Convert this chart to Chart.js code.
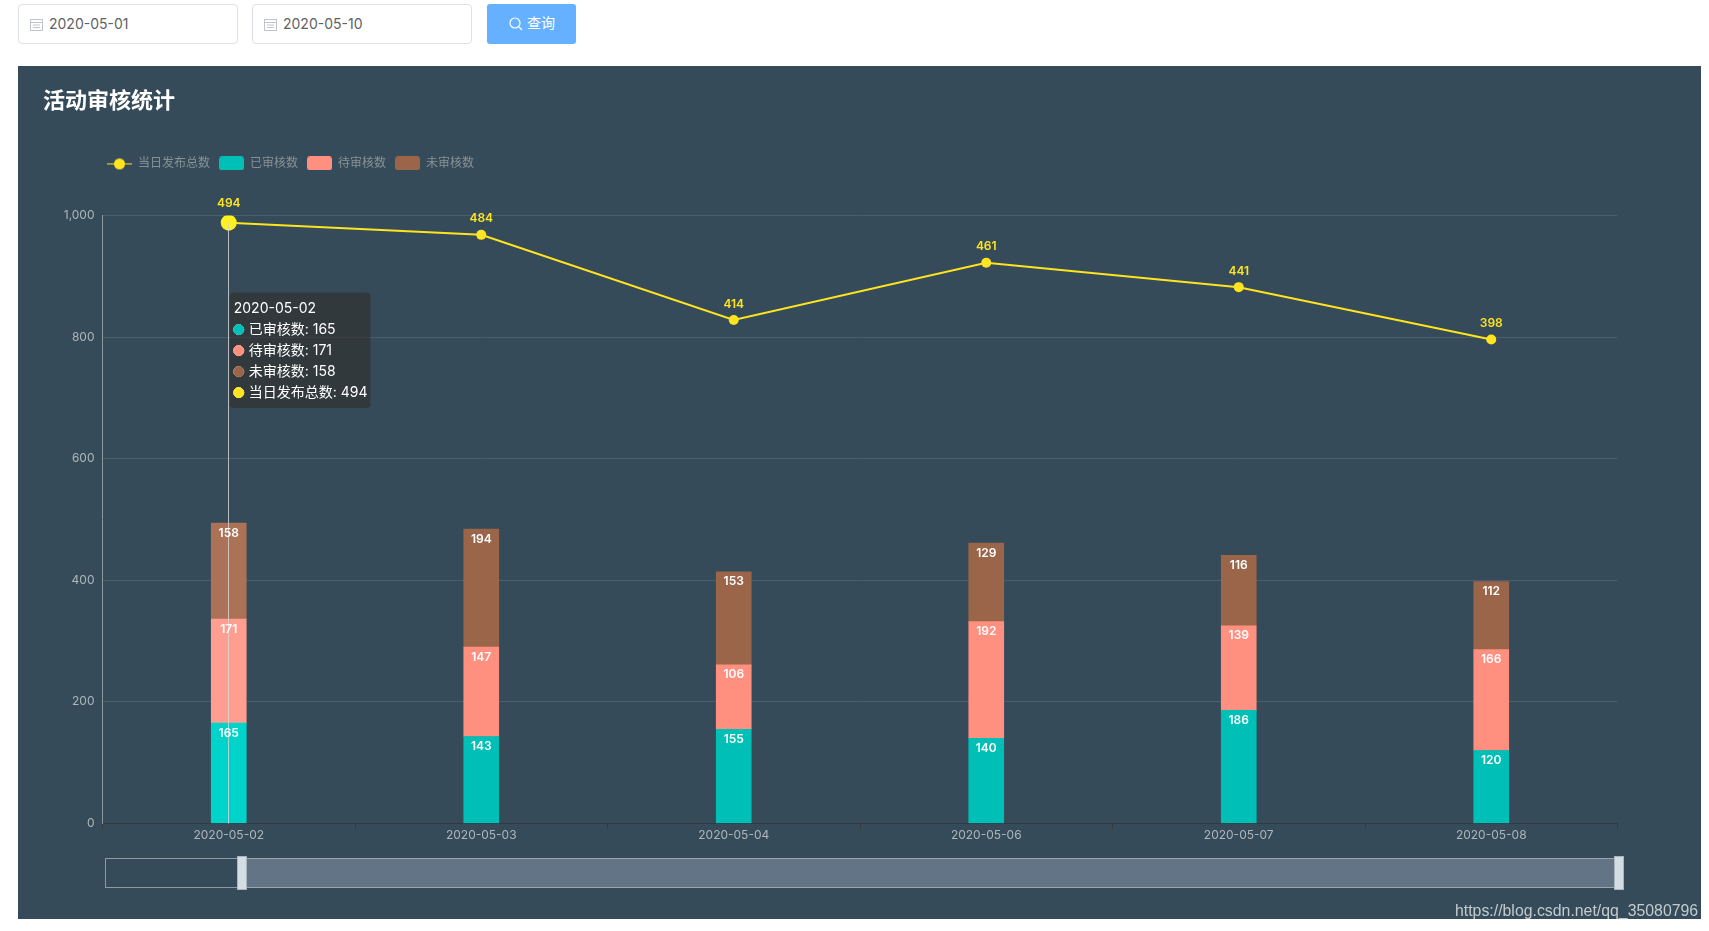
<!DOCTYPE html>
<html lang="zh"><head><meta charset="utf-8">
<script src="https://cdn.jsdelivr.net/npm/chart.js@4"></script>
<style>
html,body{margin:0;padding:0;background:#fff;overflow:hidden;width:1709px;height:931px;font-family:Inter,"Noto Sans CJK SC",sans-serif}
.inp{position:absolute;top:4px;height:38px;width:218px;border:1px solid #dcdfe6;border-radius:4px;background:#fff;color:#606266;font-size:14px;line-height:37px;box-sizing:content-box}
.inp span{position:absolute;left:30px;top:0}
.inp svg{position:absolute;left:11px;top:13px}
#btn{position:absolute;left:487px;top:4px;width:89px;height:40px;background:#66b1ff;border-radius:3px;color:#fff;font-size:14px;line-height:38px}
#btn span{position:absolute;left:40px;top:0}
#btn svg{position:absolute;left:22px;top:13px}
#panel{position:absolute;left:18px;top:66px;width:1683px;height:853px;background:#354b59}
canvas{position:absolute;left:0;top:0}
.sl{position:absolute;box-sizing:border-box}
#wm{position:absolute;left:1455px;top:902px;font:15.85px "Liberation Sans",Arial,sans-serif;color:#c3cbcf;white-space:nowrap}
</style></head><body>
<div class="inp" style="left:18px"><svg width="13" height="13" viewBox="0 0 13 13" fill="none" stroke="#c0c4cc"><rect x=".5" y="1.5" width="12" height="11"/><path d="M.5 4.5h12M3 7h7M3 9.5h7"/></svg><span id="d1"></span></div>
<div class="inp" style="left:252px"><svg width="13" height="13" viewBox="0 0 13 13" fill="none" stroke="#c0c4cc"><rect x=".5" y="1.5" width="12" height="11"/><path d="M.5 4.5h12M3 7h7M3 9.5h7"/></svg><span id="d2"></span></div>
<div id="btn"><svg width="14" height="14" viewBox="0 0 14 14" fill="none" stroke="#fff" stroke-width="1.2"><circle cx="6" cy="6" r="5"/><path d="M10 10l3 3"/></svg><span>查询</span></div>
<div id="panel">
  <canvas id="c" width="1683" height="853" style="width:1683px;height:853px"></canvas>
  <div class="sl" style="left:87px;top:792px;width:1510px;height:30px;border:1px solid #8d9a9f"></div>
  <div class="sl" style="left:224px;top:792px;width:1375px;height:30px;background:#627486;border-top:1px solid #9aa6a8;border-bottom:1px solid #9aa6a8"></div>
  <div class="sl" style="left:219px;top:790px;width:10px;height:34px;background:#d3dde4;border:1px solid #a9b6bf"></div>
  <div class="sl" style="left:1596px;top:790px;width:10px;height:34px;background:#d3dde4;border:1px solid #a9b6bf"></div>
</div>
<div id="wm">https://blog.csdn.net/qq_35080796</div>
<script>
const startDate = "2020-05-01";
const endDate = "2020-05-10";
const categories = ["2020-05-02","2020-05-03","2020-05-04","2020-05-06","2020-05-07","2020-05-08"];
const reviewed = [165,143,155,140,186,120];
const pending  = [171,147,106,192,139,166];
const unreviewed = [158,194,153,129,116,112];
const published = [494,484,414,461,441,398];
const yTicks = [0,200,400,600,800,1000];
const titleText = "活动审核统计";

document.getElementById('d1').textContent = startDate;
document.getElementById('d2').textContent = endDate;

const C = {teal:'#00bfb6', salmon:'#ff8f7f', brown:'#9b6549', yellow:'#ffe41f',
           tealH:'#00d3ca', salmonH:'#ff9e90', brownH:'#ab7257', yellowH:'#fff01f'};
const FONT = 'Inter,"Noto Sans CJK SC",sans-serif';

function swatch(draw){
  const c = document.createElement('canvas'); c.width = 25; c.height = 14;
  draw(c.getContext('2d')); return c;
}
function boxIcon(color){
  return swatch(g=>{ g.fillStyle=color; g.beginPath(); g.roundRect(0,0,25,14,3); g.fill(); });
}
const lineIcon = swatch(g=>{
  g.strokeStyle=C.yellow; g.lineWidth=1; g.beginPath(); g.moveTo(0,7.5); g.lineTo(25,7.5); g.stroke();
  g.fillStyle=C.yellow; g.beginPath(); g.arc(12.5,7.5,5.5,0,Math.PI*2); g.fill();
});

const valueLabels = {
  id:'valueLabels',
  afterDatasetsDraw(chart){
    const ctx = chart.ctx;
    ctx.save();
    ctx.textAlign='center'; ctx.textBaseline='middle';
    ctx.font = '600 12px '+FONT;
    chart.data.datasets.forEach((ds,i)=>{
      const meta = chart.getDatasetMeta(i);
      meta.data.forEach((el,j)=>{
        if(ds.type==='line'){
          ctx.fillStyle = C.yellow;
          ctx.fillText(ds.data[j], el.x, el.y - el.options.radius - 11);
        }else{
          ctx.fillStyle = '#fff';
          ctx.fillText(ds.data[j], el.x, el.y + 10);
        }
      });
    });
    ctx.restore();
  }
};
const axisPointer = {
  id:'axisPointer',
  afterDatasetsDraw(chart){
    const act = chart.getActiveElements();
    if(!act.length) return;
    const ys = act.map(a=>a.element.y);
    const ctx = chart.ctx, x = Math.round(act[0].element.x)-.5;
    ctx.save(); ctx.strokeStyle='rgba(215,215,215,.8)'; ctx.lineWidth=1;
    ctx.beginPath(); ctx.moveTo(x,Math.min(...ys)); ctx.lineTo(x,chart.chartArea.bottom); ctx.stroke();
    ctx.restore();
  }
};
const placeBlocks = {
  id:'placeBlocks',
  beforeInit(chart){
    const fit = chart.legend.fit;
    chart.legend.fit = function(){ fit.call(this); this.height += 36; };
  },
  afterLayout(chart){
    chart.titleBlock.left = 25;
    chart.legend.left = 80;
  }
};
Chart.Tooltip.positioners.beside = function(items){
  if(!items.length) return false;
  return {x:items[0].element.x+5, y:this.chart.scales.y.getPixelForValue(1000)+77};
};

const bar = (label,data,color,hover)=>({type:'bar',label,data,stack:'s',backgroundColor:color,hoverBackgroundColor:hover,
  hoverBorderWidth:0,borderWidth:0,barThickness:35,icon:boxIcon(color)});
const chart = new Chart(document.getElementById('c'),{
  data:{labels:categories,datasets:[
    bar('已审核数',reviewed,C.teal,C.tealH),
    bar('待审核数',pending,C.salmon,C.salmonH),
    bar('未审核数',unreviewed,C.brown,C.brownH),
    {type:'line',label:'当日发布总数',data:published,stack:'s',borderColor:C.yellow,backgroundColor:C.yellow,borderWidth:2,
     tension:0,pointRadius:5,pointBorderWidth:0,pointBackgroundColor:C.yellow,pointHoverRadius:8,pointHoverBorderWidth:0,
     pointHoverBackgroundColor:C.yellowH,icon:lineIcon}
  ]},
  options:{
    responsive:false,animation:false,
    events:[],
    layout:{padding:{left:44.5,right:83.5,top:22,bottom:65.5}},
    scales:{
      x:{stacked:true,offset:true,
         border:{color:'#33393c',width:1},
         grid:{display:true,drawOnChartArea:false,offset:true,color:'#33393c',tickLength:5},
         ticks:{color:'#aeb6ba',font:{size:12,family:FONT},maxRotation:0,autoSkip:false,padding:0},
         afterFit(s){s.height=30;}},
      y:{stacked:true,min:yTicks[0],max:yTicks[yTicks.length-1],
         border:{color:'#8d979c',width:1},
         afterBuildTicks(s){s.ticks=yTicks.map(v=>({value:v}));},
         grid:{color:'#4b5f6b',drawTicks:false},
         ticks:{color:'#aeb6ba',font:{size:12,family:FONT},padding:8,
                callback:v=>v.toLocaleString('en-US')},
         afterFit(s){s.width=40;}}
    },
    plugins:{
      title:{display:true,text:titleText,align:'start',color:'#fff',
             font:{size:22,weight:'bold',family:FONT},padding:{top:0,bottom:34}},
      legend:{position:'top',align:'start',
        labels:{usePointStyle:true,pointStyleWidth:25,boxHeight:14,padding:9,color:'#8a9196',
                font:{size:12,family:FONT},
                generateLabels(ch){
                  return ch.data.datasets.map((d,i)=>({text:d.label,fontColor:'#8a9196',pointStyle:d.icon,datasetIndex:i,hidden:false,lineWidth:0}));
                },
                sort:(a,b)=>{const o=[3,0,1,2];return o.indexOf(a.datasetIndex)-o.indexOf(b.datasetIndex);}}},
      tooltip:{enabled:true,mode:'index',position:'beside',xAlign:'left',yAlign:'top',caretSize:0,caretPadding:0,
        backgroundColor:'rgba(50,50,50,.7)',cornerRadius:4,padding:{top:8,bottom:7,left:4,right:3},displayColors:true,usePointStyle:true,
        boxWidth:10,boxHeight:10,boxPadding:3,
        titleColor:'#fff',bodyColor:'#fff',titleFont:{size:14,weight:'normal',family:FONT,lineHeight:1.2},
        bodyFont:{size:14,family:FONT,lineHeight:1.2},titleMarginBottom:4,bodySpacing:4.2,titleSpacing:0,
        callbacks:{labelPointStyle:()=>({pointStyle:'circle',rotation:0}),
                   labelColor:(it)=>({backgroundColor:it.dataset.backgroundColor,borderColor:it.dataset.backgroundColor,borderWidth:0})}}
    }
  },
  plugins:[placeBlocks,axisPointer,valueLabels]
});
const active = chart.data.datasets.map((d,i)=>({datasetIndex:i,index:0}));
chart.setActiveElements(active);
chart.tooltip.setActiveElements(active,{x:0,y:0});
chart.update('none');
</script>
</body></html>
